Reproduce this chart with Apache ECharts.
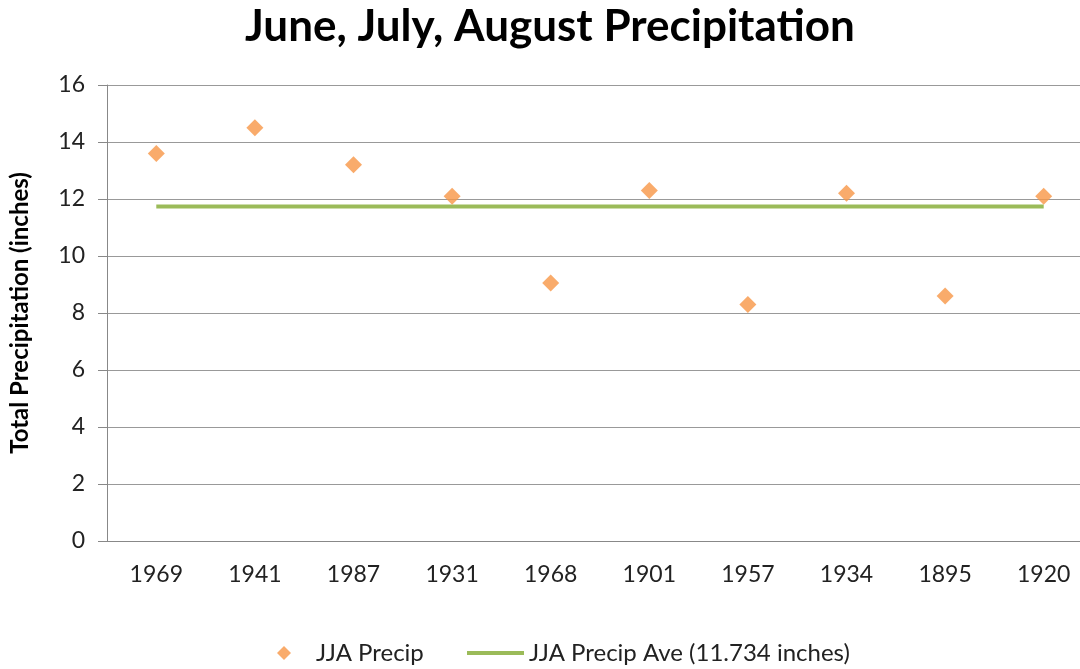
<!DOCTYPE html>
<html>
<head>
<meta charset="utf-8">
<script src="https://cdn.jsdelivr.net/npm/echarts@6/dist/echarts.min.js"></script>
<style>
  html, body { margin: 0; padding: 0; background: #fff; }
  #chart { width: 1080px; height: 669px; }
</style>
</head>
<body>
<div id="chart"></div>
<script>
const years = ["1969", "1941", "1987", "1931", "1968", "1901", "1957", "1934", "1895", "1920"];
const precip = [13.6, 14.5, 13.2, 12.1, 9.05, 12.3, 8.3, 12.2, 8.6, 12.1];
const precipAve = [11.734, 11.734, 11.734, 11.734, 11.734, 11.734, 11.734, 11.734, 11.734, 11.734];
const yTicks = { min: 0, max: 16, interval: 2 };

const font = "Lato, 'Open Sans', sans-serif";
const chart = echarts.init(document.getElementById("chart"));

chart.setOption({
    animation: false,
    title: {
        text: "June, July, August Precipitation",
        left: 545,
        textAlign: "center",
        top: 0,
        textStyle: { fontFamily: font, fontSize: 44, fontWeight: "bold", color: "#000" }
    },
    grid: { left: 107, top: 85, width: 986, height: 456, containLabel: false, outerBoundsMode: "none" },
    legend: [
        {
            data: ["JJA Precip"],
            left: 272, top: 636,
            itemWidth: 14, itemHeight: 14, itemGap: 10,
            textStyle: { fontFamily: font, fontSize: 24, color: "#222", padding: [0, 0, 0, 20] }
        },
        {
            data: [{ name: "JJA Precip Ave (11.734 inches)", icon: "rect" }],
            left: 462, top: 636,
            itemWidth: 57, itemHeight: 4, itemGap: 2,
            textStyle: { fontFamily: font, fontSize: 24, color: "#222" }
        }
    ],
    xAxis: {
        type: "category",
        data: years,
        axisLine: { lineStyle: { color: "#888" } },
        axisTick: { length: 9, lineStyle: { color: "#888" } },
        axisLabel: { fontFamily: font, fontSize: 23, color: "#222", margin: 22 }
    },
    yAxis: {
        type: "value",
        min: yTicks.min, max: yTicks.max, interval: yTicks.interval,
        name: "Total Precipitation (inches)",
        nameLocation: "middle",
        nameGap: 75,
        nameTextStyle: { fontFamily: font, fontSize: 24, fontWeight: "bold", color: "#000" },
        axisLine: { show: true, lineStyle: { color: "#888" } },
        axisTick: { show: true, length: 9, lineStyle: { color: "#888" } },
        axisLabel: { fontFamily: font, fontSize: 23, color: "#222", margin: 22 },
        splitLine: { lineStyle: { color: "#999", width: 1 } }
    },
    series: [
        {
            name: "JJA Precip",
            type: "scatter",
            data: precip,
            symbol: "diamond",
            symbolSize: 17,
            itemStyle: { color: "#F79646" },
            z: 3
        },
        {
            name: "JJA Precip Ave (11.734 inches)",
            type: "line",
            data: precipAve,
            symbol: "none",
            lineStyle: { color: "#9BBB59", width: 4 },
            itemStyle: { color: "#9BBB59" },
            z: 2
        }
    ]
});
</script>
</body>
</html>
